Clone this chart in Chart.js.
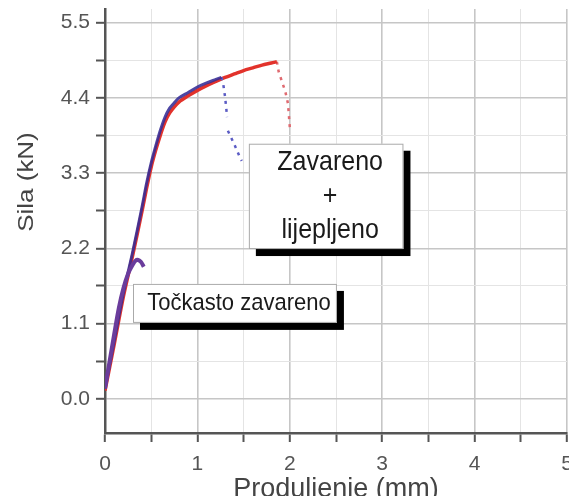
<!DOCTYPE html>
<html>
<head>
<meta charset="utf-8">
<script src="https://cdn.jsdelivr.net/npm/chart.js@4.4.1/dist/chart.umd.min.js"></script>
<style>
html,body{margin:0;padding:0;background:#fff;overflow:hidden;}
#wrap{position:absolute;left:0;top:0;width:569px;height:510px;}
</style>
</head>
<body>
<div id="wrap"><canvas id="c" width="569" height="510"></canvas></div>
<script>
// ---- data ----
const redX  = [0, 0.1, 0.2, 0.3, 0.4, 0.45, 0.5, 0.55, 0.6, 0.65, 0.7, 0.75, 0.8, 0.9, 1.0, 1.1, 1.2, 1.3, 1.4, 1.5, 1.6, 1.7, 1.8, 1.86];
const redY  = [0.12, 0.8, 1.5, 2.1, 2.74, 3.08, 3.39, 3.64, 3.86, 4.05, 4.18, 4.27, 4.34, 4.43, 4.51, 4.58, 4.64, 4.7, 4.75, 4.8, 4.84, 4.88, 4.91, 4.93];
const redDropX = [1.86, 1.88, 1.92, 1.95, 1.98, 1.99, 2.0];
const redDropY = [4.93, 4.78, 4.62, 4.5, 4.32, 4.15, 3.97];

const blueX = [0, 0.1, 0.2, 0.3, 0.4, 0.45, 0.5, 0.55, 0.6, 0.65, 0.7, 0.75, 0.8, 0.9, 1.0, 1.1, 1.2, 1.26];
const blueY = [0.15, 0.85, 1.55, 2.15, 2.8, 3.15, 3.45, 3.7, 3.93, 4.12, 4.25, 4.33, 4.4, 4.48, 4.56, 4.62, 4.67, 4.7];
const blueDropX = [1.26, 1.28, 1.3, 1.315, 1.32, 1.325, 1.33, 1.4, 1.46, 1.48];
const blueDropY = [4.7, 4.6, 4.41, 4.21, 4.12, null, 3.92, 3.72, 3.53, 3.48];

const spotX = [0, 0.05, 0.1, 0.15, 0.2, 0.25, 0.3, 0.33, 0.36, 0.39, 0.42];
const spotY = [0.15, 0.55, 0.95, 1.33, 1.62, 1.83, 1.96, 2.02, 2.03, 2.0, 1.93];

const xMajorTicks = [0, 1, 2, 3, 4, 5];
const xMinorTicks = [0.5, 1.5, 2.5, 3.5, 4.5];
const yMajorTicks = [0.0, 1.1, 2.2, 3.3, 4.4, 5.5];
const yMinorTicks = [0.55, 1.65, 2.75, 3.85, 4.95];

const xTitle = 'Produljenje (mm)';
const yTitle = 'Sila (kN)';
const noteTop = ['Zavareno', '+', 'lijepljeno'];
const noteBottom = ['Točkasto zavareno'];
// annotation boxes anchored in data units [x1, y1, x2, y2]
const noteTopBox = [1.557, 3.73, 3.23, 2.19];
const noteBottomBox = [0.303, 1.68, 2.51, 1.11];

// ---- helpers ----
const pts = (xs, ys) => xs.map((x, i) => ({x: x, y: ys[i]}));
const near = (v, arr) => arr.some(a => Math.abs(a - v) < 1e-6);
const FONT = "'Liberation Sans', Arial, sans-serif";

const annotations = {
  id: 'annotations',
  afterDatasetsDraw(chart) {
    const {ctx, scales: {x, y}} = chart;
    function box(b, lines, fontPx, lineGap, stretch) {
      const x1 = x.getPixelForValue(b[0]), y1 = y.getPixelForValue(b[1]);
      const x2 = x.getPixelForValue(b[2]), y2 = y.getPixelForValue(b[3]);
      ctx.save();
      ctx.fillStyle = '#000';
      ctx.fillRect(x1 + 7, y1 + 7, x2 - x1, y2 - y1);
      ctx.fillStyle = '#fff';
      ctx.fillRect(x1, y1, x2 - x1, y2 - y1);
      ctx.strokeStyle = '#aaa';
      ctx.lineWidth = 1;
      ctx.strokeRect(x1 + 0.5, y1 + 0.5, x2 - x1 - 1, y2 - y1 - 1);
      ctx.fillStyle = '#1a1a1a';
      ctx.font = fontPx + 'px ' + FONT;
      ctx.textAlign = 'center';
      ctx.textBaseline = 'middle';
      const cx = (x1 + x2) / 2 + 4;
      const cy = (y1 + y2) / 2;
      const n = lines.length;
      lines.forEach((t, i) => {
        ctx.save();
        ctx.translate(cx, cy + (i - (n - 1) / 2) * lineGap);
        ctx.scale(1, stretch);
        ctx.fillText(t, 0, 0);
        ctx.restore();
      });
      ctx.restore();
    }
    box(noteTopBox, noteTop, 25, 34, 1.12);
    box(noteBottomBox, noteBottom, 22, 0, 1.12);
  },
  afterDraw(chart) {
    const {ctx} = chart;
    ctx.save();
    ctx.translate(27, 182);
    ctx.rotate(-Math.PI / 2);
    ctx.scale(1.18, 1);
    ctx.font = '22px ' + FONT;
    ctx.fillStyle = '#444';
    ctx.textAlign = 'center';
    ctx.textBaseline = 'middle';
    ctx.fillText(yTitle, 0, 0);
    ctx.restore();
  }
};

new Chart(document.getElementById('c'), {
  type: 'scatter',
  data: {
    datasets: [
      {data: pts(spotX, spotY), showLine: true, borderColor: '#6a3c9c', borderWidth: 4, pointRadius: 0, tension: 0.3},
      {data: pts(blueX, blueY), showLine: true, borderColor: 'rgba(52,44,150,0.88)', borderWidth: 3, pointRadius: 0, tension: 0.3},
      {data: pts(blueDropX, blueDropY), showLine: true, borderColor: '#5b5cc4', borderWidth: 2.5, borderDash: [3, 5], pointRadius: 0, spanGaps: false},
      {data: pts(redX, redY), showLine: true, borderColor: '#e2322b', borderWidth: 3.5, pointRadius: 0, tension: 0.3},
      {data: pts(redDropX, redDropY), showLine: true, borderColor: '#e06a70', borderWidth: 2.5, borderDash: [3, 5], pointRadius: 0}
    ]
  },
  options: {
    responsive: false,
    animation: false,
    devicePixelRatio: 1,
    layout: {padding: {top: 9, right: 2, left: 0, bottom: 0}},
    plugins: {legend: {display: false}, tooltip: {enabled: false}},
    scales: {
      x: {
        type: 'linear', min: 0, max: 5,
        afterBuildTicks: s => { s.ticks = xMajorTicks.concat(xMinorTicks).sort((a, b) => a - b).map(v => ({value: v})); },
        afterFit: s => { s.height = 77; s.paddingLeft = 0; s.paddingRight = 0; },
        ticks: {
          autoSkip: false, maxRotation: 0, padding: 10,
          color: '#555', font: {family: FONT, size: 21},
          callback: v => near(v, xMajorTicks) ? String(v) : ''
        },
        grid: {
          color: c => (c.tick && near(c.tick.value, xMajorTicks)) ? '#c6c6c6' : '#e4e4e4',
          lineWidth: c => (c.tick && near(c.tick.value, xMajorTicks)) ? 1.6 : 1,
          tickColor: '#555', tickLength: 9, tickWidth: 2
        },
        border: {display: true, color: '#555', width: 2.5},
        title: {display: true, text: xTitle, color: '#444', font: {family: FONT, size: 27}, padding: {top: 0, bottom: 4}}
      },
      y: {
        type: 'linear', min: -0.5, max: 5.7,
        afterBuildTicks: s => { s.ticks = yMajorTicks.concat(yMinorTicks).sort((a, b) => a - b).map(v => ({value: v})); },
        afterFit: s => { s.width = 105; s.paddingTop = 0; s.paddingBottom = 0; },
        ticks: {
          autoSkip: false, padding: 6,
          color: '#555', font: {family: FONT, size: 21},
          callback: v => near(v, yMajorTicks) ? Number(v).toFixed(1) : ''
        },
        grid: {
          color: c => (c.tick && near(c.tick.value, yMajorTicks)) ? '#c6c6c6' : '#e4e4e4',
          lineWidth: c => (c.tick && near(c.tick.value, yMajorTicks)) ? 1.6 : 1,
          tickColor: '#555', tickLength: 9, tickWidth: 2
        },
        border: {display: true, color: '#555', width: 2.5}
      }
    }
  },
  plugins: [annotations]
});
</script>
</body>
</html>
